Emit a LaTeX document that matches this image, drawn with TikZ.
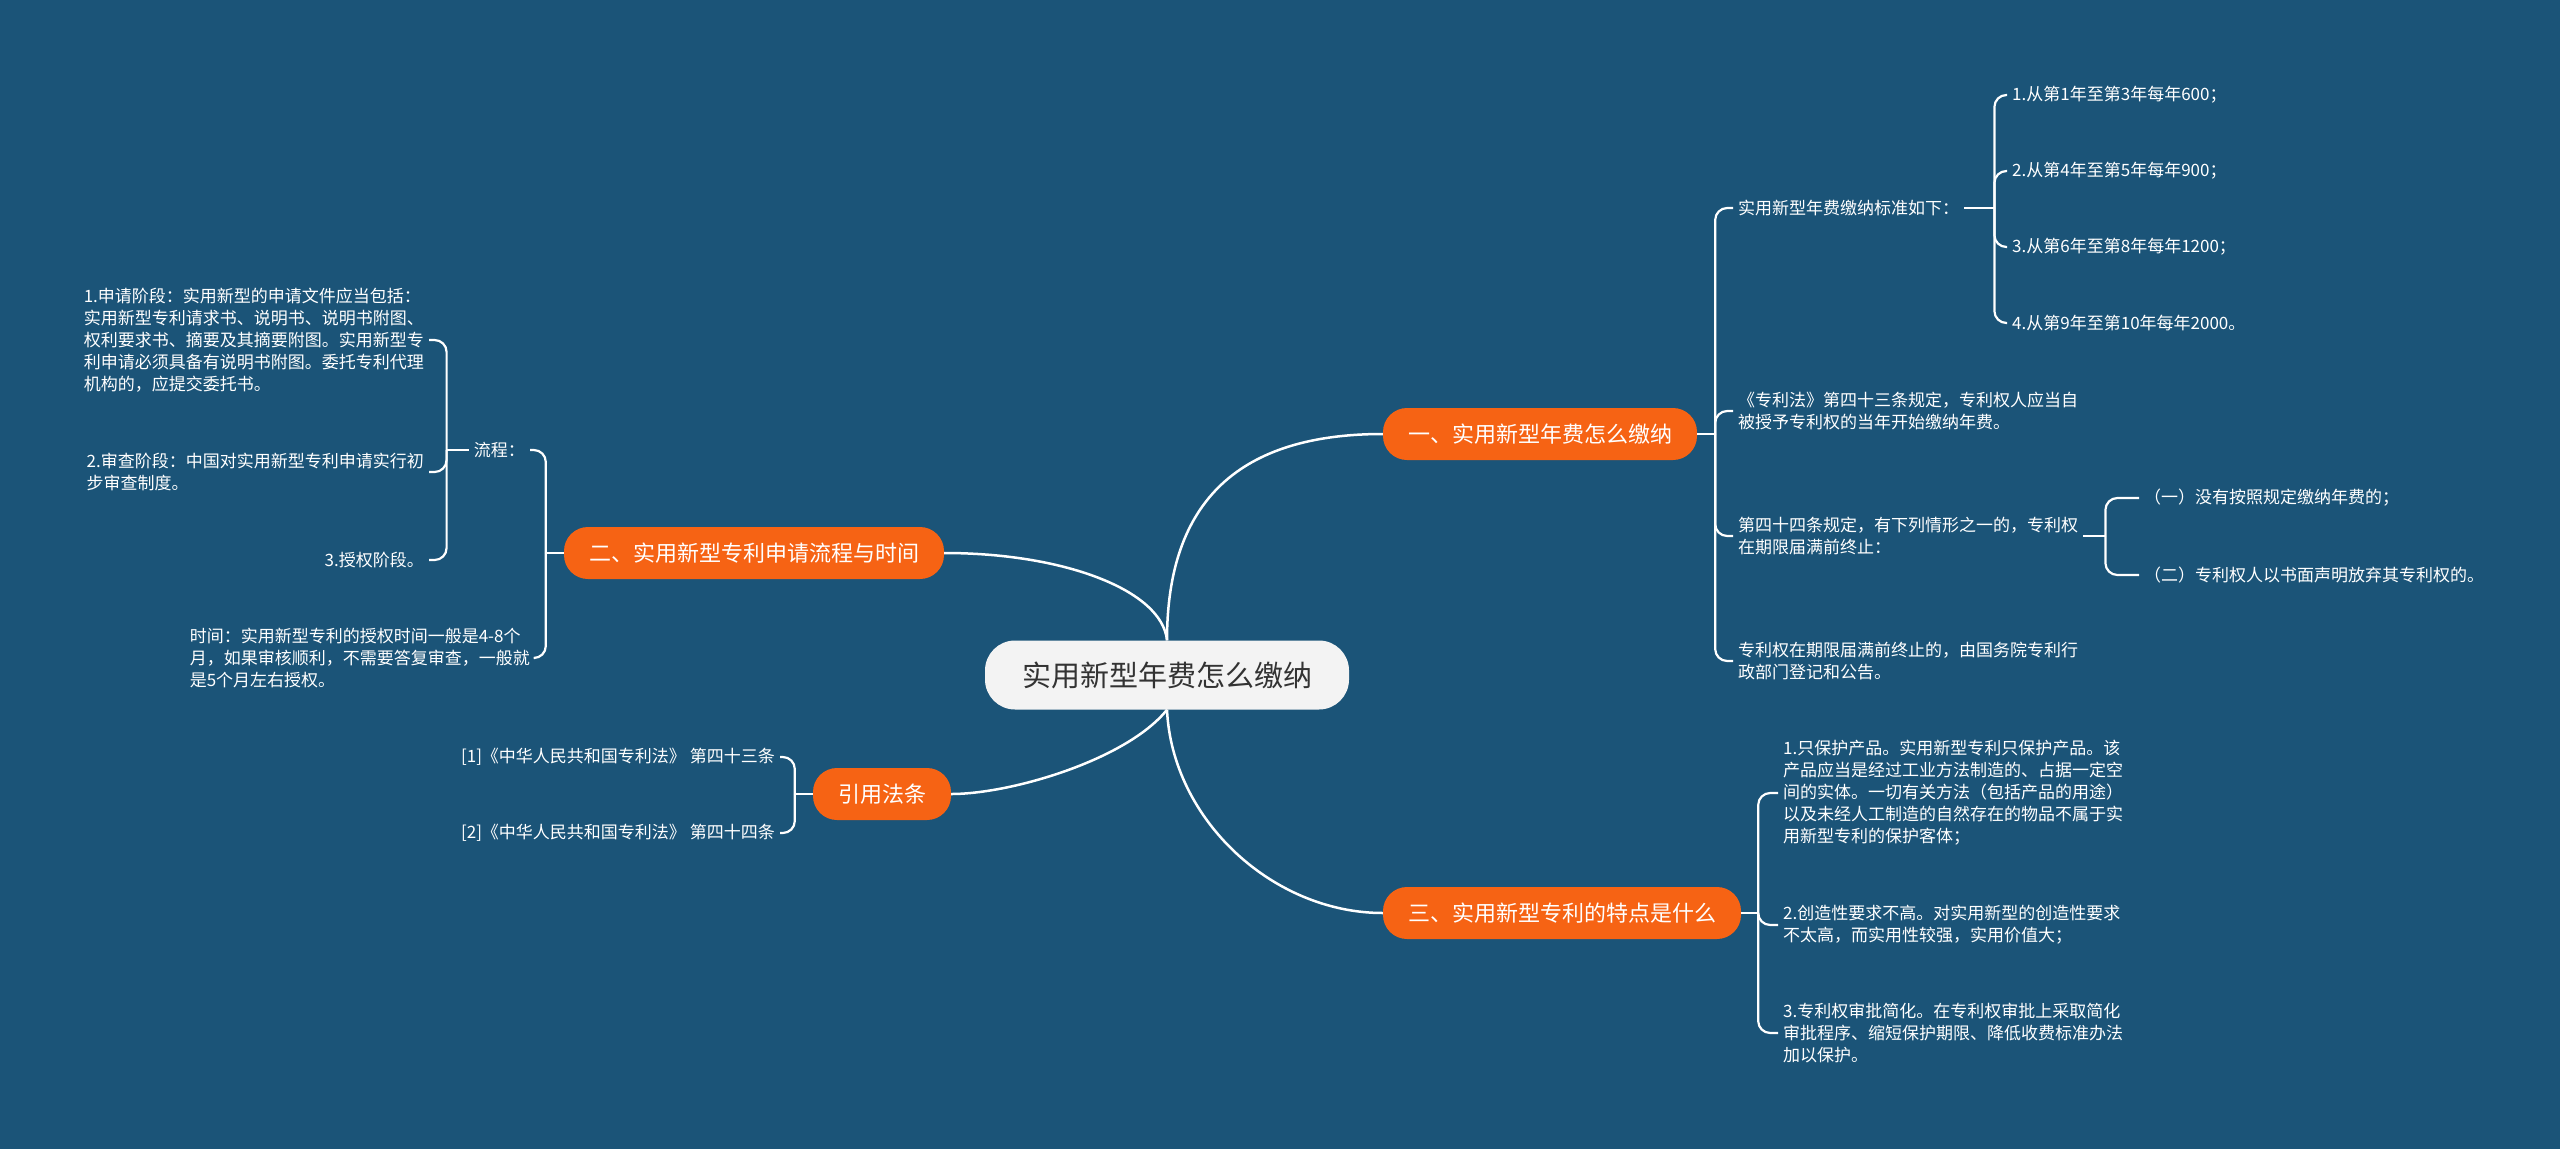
\documentclass[tikz,border=0pt]{standalone}
\usepackage{fontspec}
\setmainfont{Noto Sans CJK SC}
\usepackage{xcolor}
\usepackage{tikz}
\usetikzlibrary{positioning}
\definecolor{bgblue}{RGB}{27, 84, 120}
\definecolor{topicorange}{RGB}{246, 99, 20}
\definecolor{rootgray}{RGB}{243, 243, 243}
\definecolor{roottext}{RGB}{51, 51, 51}

\begin{document}
\begin{tikzpicture}[
    x=1pt, y=-1pt,
    rootnode/.style={rectangle, rounded corners=30pt, fill=rootgray, text=roottext, minimum width=364pt, minimum height=69pt, font=\fontsize{29}{34}\selectfont},
    topic/.style={rectangle, rounded corners=24pt, fill=topicorange, text=white, minimum height=52pt, inner xsep=25pt, font=\fontsize{22}{26}\selectfont},
    leaf/.style={align=left, text=white, inner sep=5pt, font=\fontsize{17}{22}\selectfont},
    link/.style={draw=white, line width=2.5pt},
    twig/.style={draw=white, line width=2.2pt, rounded corners=12pt}
]
% Background
\fill[bgblue] (0,0) rectangle (2560,1149);

% Root and topics
\node[rootnode] (root) at (1167,675) {实用新型年费怎么缴纳};
\node[topic] (fee) at (1540,434) {一、实用新型年费怎么缴纳};
\node[topic] (apply) at (754,553) {二、实用新型专利申请流程与时间};
\node[topic] (cite) at (882,794) {引用法条};
\node[topic] (trait) at (1562,913) {三、实用新型专利的特点是什么};

% Topic one
\node[leaf, anchor=west] (feestd) at (1733,208) {实用新型年费缴纳标准如下：};
\node[leaf, anchor=west] (feestart) at (1733,411) {《专利法》第四十三条规定，专利权人应当自\\被授予专利权的当年开始缴纳年费。};
\node[leaf, anchor=west] (feeend) at (1733,536) {第四十四条规定，有下列情形之一的，专利权\\在期限届满前终止：};
\node[leaf, anchor=west] (feereg) at (1733,661) {专利权在期限届满前终止的，由国务院专利行\\政部门登记和公告。};
\node[leaf, anchor=west] (year1) at (2007,95) {1.从第1年至第3年每年600；};
\node[leaf, anchor=west] (year2) at (2007,171) {2.从第4年至第5年每年900；};
\node[leaf, anchor=west] (year3) at (2007,247) {3.从第6年至第8年每年1200；};
\node[leaf, anchor=west] (year4) at (2007,323) {4.从第9年至第10年每年2000。};
\node[leaf, anchor=west] (endone) at (2139,498) {（一）没有按照规定缴纳年费的；};
\node[leaf, anchor=west] (endtwo) at (2139,575) {（二）专利权人以书面声明放弃其专利权的。};

% Topic two
\node[leaf, anchor=east] (flow) at (530,450) {流程：};
\node[leaf, anchor=east] (timing) at (535,658) {时间：实用新型专利的授权时间一般是4-8个\\月，如果审核顺利，不需要答复审查，一般就\\是5个月左右授权。};
\node[leaf, anchor=east] (stage1) at (429,340) {1.申请阶段：实用新型的申请文件应当包括：\\实用新型专利请求书、说明书、说明书附图、\\权利要求书、摘要及其摘要附图。实用新型专\\利申请必须具备有说明书附图。委托专利代理\\机构的，应提交委托书。};
\node[leaf, anchor=east] (stage2) at (429,472) {2.审查阶段：中国对实用新型专利申请实行初\\步审查制度。};
\node[leaf, anchor=east] (stage3) at (429,560) {3.授权阶段。};

% Cited laws
\node[leaf, anchor=east] (law1) at (780,757) {[1]《中华人民共和国专利法》 第四十三条};
\node[leaf, anchor=east] (law2) at (780,833) {[2]《中华人民共和国专利法》 第四十四条};

% Topic three
\node[leaf, anchor=west] (trait1) at (1778,793) {1.只保护产品。实用新型专利只保护产品。该\\产品应当是经过工业方法制造的、占据一定空\\间的实体。一切有关方法（包括产品的用途）\\以及未经人工制造的自然存在的物品不属于实\\用新型专利的保护客体；};
\node[leaf, anchor=west] (trait2) at (1778,925) {2.创造性要求不高。对实用新型的创造性要求\\不太高，而实用性较强，实用价值大；};
\node[leaf, anchor=west] (trait3) at (1778,1033) {3.专利权审批简化。在专利权审批上采取简化\\审批程序、缩短保护期限、降低收费标准办法\\加以保护。};

% Branch points
\coordinate (feeb) at ([xshift=18pt]fee.east);
\coordinate (feestdb) at ([xshift=30pt]feestd.east);
\coordinate (feeendb) at ([xshift=22pt]feeend.east);
\coordinate (applyb) at ([xshift=-18pt]apply.west);
\coordinate (flowb) at ([xshift=-22pt]flow.west);
\coordinate (citeb) at ([xshift=-18pt]cite.west);
\coordinate (traitb) at ([xshift=17pt]trait.east);

% Connections
\draw[link] (root.north) .. controls +(0,-140) and +(-143,0) .. (fee.west);
\draw[link] (root.north) .. controls +(-5,-50) and +(120,0) .. (apply.east);
\draw[link] (root.south) .. controls +(-40,50) and +(60,0) .. (cite.east);
\draw[link] (root.south) .. controls +(5,110) and +(-110,0) .. (trait.west);

\draw[link] (fee.east) -- (feeb);
\foreach \n in {feestd,feestart,feeend,feereg} \draw[twig] (feeb) |- (\n.west);
\draw[link] (feestd.east) -- (feestdb);
\foreach \n in {year1,year2,year3,year4} \draw[twig] (feestdb) |- (\n.west);
\draw[link] (feeend.east) -- (feeendb);
\foreach \n in {endone,endtwo} \draw[twig] (feeendb) |- (\n.west);

\draw[link] (apply.west) -- (applyb);
\foreach \n in {flow,timing} \draw[twig] (applyb) |- (\n.east);
\draw[link] (flow.west) -- (flowb);
\foreach \n in {stage1,stage2,stage3} \draw[twig] (flowb) |- (\n.east);

\draw[link] (cite.west) -- (citeb);
\foreach \n in {law1,law2} \draw[twig] (citeb) |- (\n.east);

\draw[link] (trait.east) -- (traitb);
\foreach \n in {trait1,trait2,trait3} \draw[twig] (traitb) |- (\n.west);
\end{tikzpicture}
\end{document}
